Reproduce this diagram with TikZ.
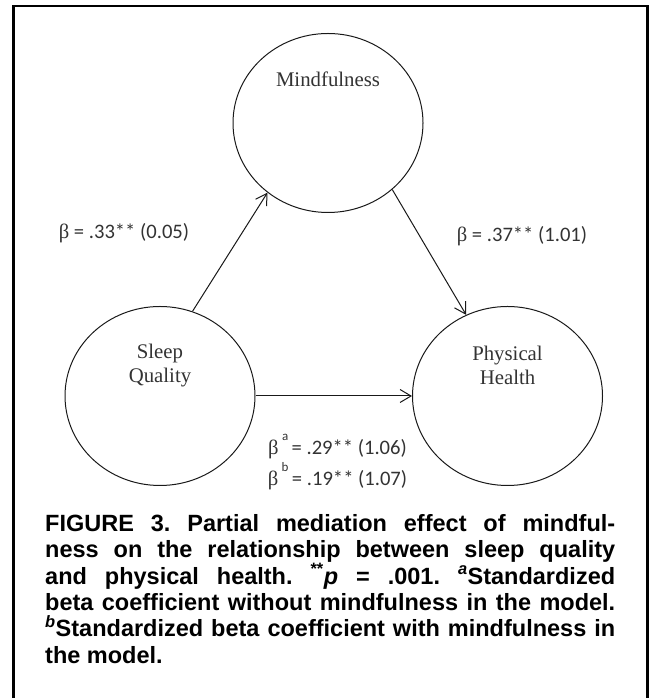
\documentclass[tikz,border=0pt]{standalone}
\usepackage{fontspec}
\setmainfont{Liberation Serif}
\newfontfamily\coeffont{Carlito}
\newfontfamily\capfont{Liberation Sans}
\usetikzlibrary{shapes.geometric, arrows.meta, positioning}
\definecolor{cink}{gray}{0.2}
\definecolor{cline}{gray}{0.1}
\newcommand{\betasym}{{\rmfamily β}}

\begin{document}
\begin{tikzpicture}[
    x=1pt, y=1pt,
    latent/.style={draw=cline, line width=1pt, ellipse, minimum width=190pt, minimum height=179pt, inner sep=0pt},
    varname/.style={font=\fontsize{20.8}{24}\selectfont, text=cink, align=center, inner sep=0pt},
    coef/.style={font=\coeffont\fontsize{20.6}{24}\selectfont, text=cink, inner sep=0pt, anchor=base},
    effect/.style={draw=cline, line width=1pt, -{Straight Barb[length=11pt, width=13pt, line width=1pt]}},
    caption/.style={font=\capfont\bfseries\fontsize{23.5}{26.4}\selectfont,
        text width=570pt, align=justify, inner sep=0pt, anchor=north west},
]
\useasboundingbox (0,0) rectangle (649,698);
% frame, open at the bottom
\draw[line width=2.5pt] (13.5,-10) -- (13.5,692) -- (647.5,692) -- (647.5,-10);

\node[latent] (mind) at (328,575) {};
\node[latent] (sleep) at (160,302) {};
\node[latent] (phys) at (507.5,302) {};

\node[varname] (mindtxt) at (328,619) {Mindfulness};
\node[varname] (sleeptxt) at (160,332) {Sleep\\Quality};
\node[varname] (phystxt) at (507.5,333) {Physical\\Health};

\draw[effect] (sleep.69) -- (mind.229);
\draw[effect] (mind.314) -- (phys.117);
\draw[effect] (sleep.east) -- (phys.west);

\node[coef] (coefa) at (124,459) {\betasym{} = .33** (0.05)};
\node[coef] (coefb) at (522,456) {\betasym{} = .37** (1.01)};
\node[coef] (coefc) at (337.5,243) {\betasym\,\raisebox{0.7em}{\fontsize{13}{13}\selectfont a}\,= .29** (1.06)};
\node[coef] (coefd) at (337.5,212) {\betasym\,\raisebox{0.7em}{\fontsize{13}{13}\selectfont b}\,= .19** (1.07)};

\node[caption] (cap) at (45,184) {\frenchspacing\tolerance=10000\relax\hbadness=10000\relax
FIGURE 3. Partial mediation effect of mindful-\linebreak
ness on the relationship between sleep quality\linebreak
and physical health. \textsuperscript{**}\textit{p} = .001. \textsuperscript{\textit{a}}Standardized\linebreak
beta coefficient without mindfulness in the model.\linebreak
\textsuperscript{\textit{b}}Standardized beta coefficient with mindfulness in\linebreak
the model.};

\end{tikzpicture}
\end{document}
